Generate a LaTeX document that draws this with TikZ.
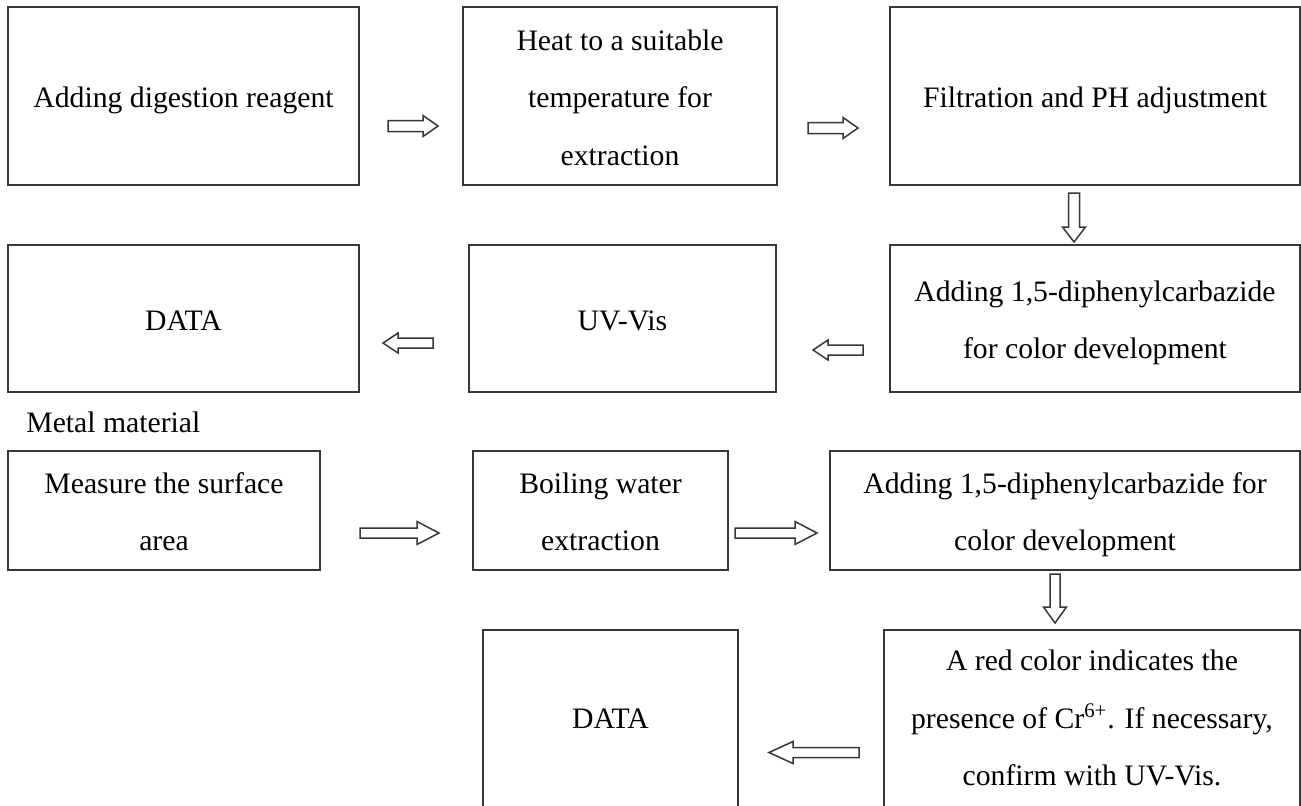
\documentclass[tikz,border=0pt]{standalone}
\usepackage{fontspec}
\setmainfont{Liberation Serif}
\usetikzlibrary{calc}
\definecolor{lncol}{RGB}{55,55,55}
\newcommand{\lowpad}{\rule[-13.125pt]{0pt}{13.125pt}}
\tikzset{
  flowbox/.style={draw=lncol, line width=0.75pt, inner sep=0pt, outer sep=0pt,
    align=center, anchor=north west, font=\fontsize{14.85}{28.75}\selectfont},
  plaintext/.style={inner sep=0pt, font=\fontsize{14.85}{28.75}\selectfont},
  arrowline/.style={draw=lncol, line width=0.75pt, fill=white, line join=miter},
  pics/blockarrow/.style args={#1/#2/#3/#4}{code={
    \draw[arrowline] (0,-#2) -- ({#1-#4},-#2) -- ({#1-#4},-#3) -- (#1,0)
      -- ({#1-#4},#3) -- ({#1-#4},#2) -- (0,#2) -- cycle;
  }},
}
\begin{document}
\begin{tikzpicture}[x=0.5pt,y=-0.5pt]
\useasboundingbox (0,0) rectangle (1301,805);
\fill[white] (0,0) rectangle (1301,805);
\begin{scope}
\clip (0,0) rectangle (1301,805);
% row 1
\node[flowbox, minimum width=175.5pt, minimum height=89pt] (A) at (8,7)
  {Adding digestion reagent\strut};
\node[flowbox, minimum width=157pt, minimum height=89pt] (B) at (463,7)
  {Heat to a suitable\strut\\temperature for\strut\\extraction\strut};
\node[flowbox, minimum width=205pt, minimum height=89pt] (C) at (890,7)
  {Filtration and PH adjustment\strut};
% row 2
\node[flowbox, minimum width=175.5pt, minimum height=73.5pt] (D) at (8,245)
  {DATA\strut};
\node[flowbox, minimum width=153.5pt, minimum height=73.5pt] (E) at (469,245)
  {UV-Vis\strut};
\node[flowbox, minimum width=205pt, minimum height=73.5pt] (F) at (890,245)
  {Adding 1,5-diphenylcarbazide\strut\\for color development\strut};
% label
\node[plaintext, anchor=base west] (M) at (26,432) {Metal material};
% row 3
\node[flowbox, minimum width=156pt, minimum height=59.5pt] (G) at (8,451)
  {Measure the surface\strut\\area\strut};
\node[flowbox, minimum width=127.5pt, minimum height=59.5pt] (H) at (473,451)
  {Boiling water\strut\\extraction\strut};
\node[flowbox, minimum width=235pt, minimum height=59.5pt] (I) at (830,451)
  {Adding 1,5-diphenylcarbazide for\strut\\color development\strut};
% row 4 (bottom edges run past the lower margin)
\node[flowbox, minimum width=127.5pt, minimum height=91pt] (J) at (483,630)
  {DATA\strut\lowpad};
\node[flowbox, minimum width=208pt, minimum height=91pt] (K) at (884,630)
  {A red color indicates the\strut\\presence of Cr\textsuperscript{6+}. If necessary,\strut\\confirm with UV-Vis.\strut\lowpad};
% arrows
\pic at ($(A.east)+(29,30)$) {blockarrow=50/5.5/10.5/15};
\pic at ($(B.east)+(31,32)$) {blockarrow=50/5.5/10.5/15};
\pic[rotate=-90] at ($(C.south)+(-21,8)$) {blockarrow=49/5.5/11.5/15};
\pic[xscale=-1] at ($(F.west)+(-27,31.5)$) {blockarrow=50/5/10/15};
\pic[xscale=-1] at ($(E.west)+(-36,24.5)$) {blockarrow=50/5/10/15};
\pic at ($(G.east)+(40,22.5)$) {blockarrow=79/5/11.5/22};
\pic at ($(H.east)+(7,22.5)$) {blockarrow=82/5/11.5/22};
\pic[rotate=-90] at ($(I.south)+(-10,4)$) {blockarrow=49/5/11.5/16};
\pic[xscale=-1] at ($(K.west)+(-25,31.5)$) {blockarrow=90/5/11/24};
\end{scope}
\end{tikzpicture}
\end{document}
